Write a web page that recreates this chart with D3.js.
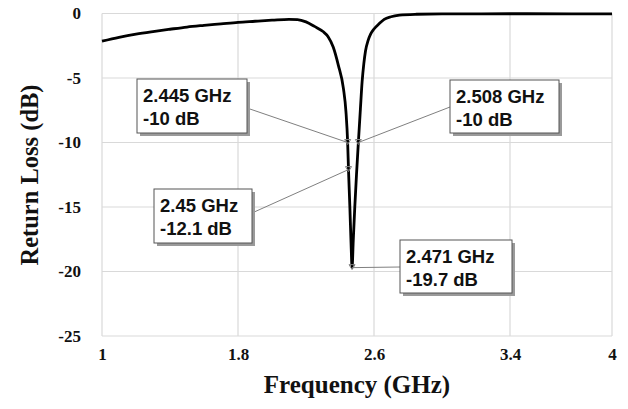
<!DOCTYPE html>
<html>
<head>
<meta charset="utf-8">
<script src="https://cdn.jsdelivr.net/npm/d3@7"></script>
<style>
  html, body { margin: 0; padding: 0; background: #fff; }
  svg { display: block; }
</style>
</head>
<body>
<svg id="chart" width="628" height="409"></svg>
<script>
// ---- data ----
const freq = [1.0, 1.1, 1.2, 1.3, 1.4, 1.5, 1.6, 1.7, 1.8, 1.9, 2.0, 2.1, 2.15, 2.2, 2.25, 2.3, 2.33, 2.36, 2.39, 2.42, 2.435, 2.445, 2.45, 2.458, 2.465, 2.471, 2.478, 2.487, 2.497, 2.508, 2.52, 2.53, 2.54, 2.55, 2.565, 2.58, 2.6, 2.63, 2.66, 2.7, 2.75, 2.85, 3.0, 3.5, 4.0];
const returnLoss = [-2.15, -1.85, -1.6, -1.4, -1.22, -1.05, -0.92, -0.8, -0.68, -0.6, -0.52, -0.45, -0.47, -0.65, -1.0, -1.4, -1.8, -2.6, -4.0, -5.8, -7.6, -10, -12.1, -15, -17.8, -19.7, -17.6, -15, -12.5, -10, -7.4, -5.3, -3.9, -2.9, -2.1, -1.6, -1.2, -0.8, -0.45, -0.25, -0.13, -0.06, -0.03, -0.02, -0.03];
const xTicks = [1, 1.8, 2.6, 3.4, 4];
const yTicks = [0, -5, -10, -15, -20, -25];
const markerFreq = [2.445, 2.508, 2.45, 2.471];
const markerDb = [-10, -10, -12.1, -19.7];
const markerLabels = [["2.445 GHz", "-10 dB"], ["2.508 GHz", "-10 dB"], ["2.45 GHz", "-12.1 dB"], ["2.471 GHz", "-19.7 dB"]];
// label box layout (pixels): left, top, width, height, leader anchor side
const boxLayout = [
  {x: 137, y: 79, w: 110, h: 54, side: "right", ay: 108},
  {x: 450, y: 80, w: 109, h: 53, side: "left", ay: 107},
  {x: 154, y: 189, w: 98, h: 54, side: "right", ay: 213},
  {x: 400, y: 240, w: 112, h: 53, side: "left", ay: 267}
];

const svg = d3.select("#chart");
const x = d3.scaleLinear().domain([1, 4]).range([102, 612]);
const y = d3.scaleLinear().domain([-25, 0]).range([336, 13.5]);

// gridlines
const grid = svg.append("g");
grid.selectAll("line.v").data(xTicks).join("line")
  .attr("x1", d => x(d)).attr("x2", d => x(d))
  .attr("y1", y(0)).attr("y2", y(-25))
  .attr("stroke", "#d9d9d9").attr("stroke-width", 1.2);
grid.selectAll("line.h").data(yTicks).join("line")
  .attr("x1", x(1)).attr("x2", x(4))
  .attr("y1", d => y(d)).attr("y2", d => y(d))
  .attr("stroke", "#d9d9d9").attr("stroke-width", 1.2);

// axes (labels only)
const xAxis = svg.append("g").attr("transform", `translate(0,${y(-25) + 6})`)
  .call(d3.axisBottom(x).tickValues(xTicks).tickFormat(d => String(d)).tickSize(0));
xAxis.select(".domain").remove();
xAxis.selectAll("text").attr("font-family", "Liberation Serif, Times New Roman, serif")
  .attr("font-weight", "bold").attr("font-size", 17).attr("fill", "#111").attr("dy", "0.9em");

const yAxis = svg.append("g").attr("transform", `translate(${x(1) - 18},0)`)
  .call(d3.axisLeft(y).tickValues(yTicks).tickFormat(d => String(d)).tickSize(0));
yAxis.select(".domain").remove();
yAxis.selectAll("text").attr("font-family", "Liberation Serif, Times New Roman, serif")
  .attr("font-weight", "bold").attr("font-size", 17).attr("fill", "#111");

// axis titles
svg.append("text").attr("x", 357).attr("y", 393).attr("text-anchor", "middle")
  .attr("font-family", "Liberation Serif, Times New Roman, serif").attr("font-weight", "bold")
  .attr("font-size", 25).attr("fill", "#111").text("Frequency (GHz)");
svg.append("text").attr("transform", "translate(38,175) rotate(-90)").attr("text-anchor", "middle")
  .attr("font-family", "Liberation Serif, Times New Roman, serif").attr("font-weight", "bold")
  .attr("font-size", 24.5).attr("fill", "#111").text("Return Loss (dB)");

// curve
const pts = freq.map((f, i) => [f, returnLoss[i]]);
svg.append("path").datum(pts)
  .attr("fill", "none").attr("stroke", "#000").attr("stroke-width", 2.8)
  .attr("stroke-linejoin", "round")
  .attr("d", d3.line().x(d => x(d[0])).y(d => y(d[1])).curve(d3.curveMonotoneX));

// leader lines
const ann = svg.append("g");
markerFreq.forEach((f, i) => {
  const b = boxLayout[i];
  const ax = b.side === "right" ? b.x + b.w : b.x;
  ann.append("line").attr("x1", ax).attr("y1", b.ay).attr("x2", x(f)).attr("y2", y(markerDb[i]))
    .attr("stroke", "#808080").attr("stroke-width", 1);
});

// markers
markerFreq.forEach((f, i) => {
  const mx = x(f), my = y(markerDb[i]);
  ann.append("path")
    .attr("d", `M${mx - 3},${my - 3} L${mx + 3},${my - 3} L${mx},${my + 2} Z`)
    .attr("fill", "none").attr("stroke", "#808080").attr("stroke-width", 1);
});

// boxes
boxLayout.forEach((b, i) => {
  const g = ann.append("g");
  g.append("rect").attr("x", b.x + 3).attr("y", b.y + 3).attr("width", b.w).attr("height", b.h)
    .attr("fill", "#9a9a9a");
  g.append("rect").attr("x", b.x).attr("y", b.y).attr("width", b.w).attr("height", b.h)
    .attr("fill", "#fff").attr("stroke", "#555").attr("stroke-width", 1);
  markerLabels[i].forEach((t, j) => {
    g.append("text").attr("x", b.x + 6).attr("y", b.y + 23 + j * 23)
      .attr("font-family", "Liberation Sans, Arial, sans-serif").attr("font-weight", "bold")
      .attr("font-size", 18.5).attr("fill", "#111").text(t);
  });
});
</script>
</body>
</html>
